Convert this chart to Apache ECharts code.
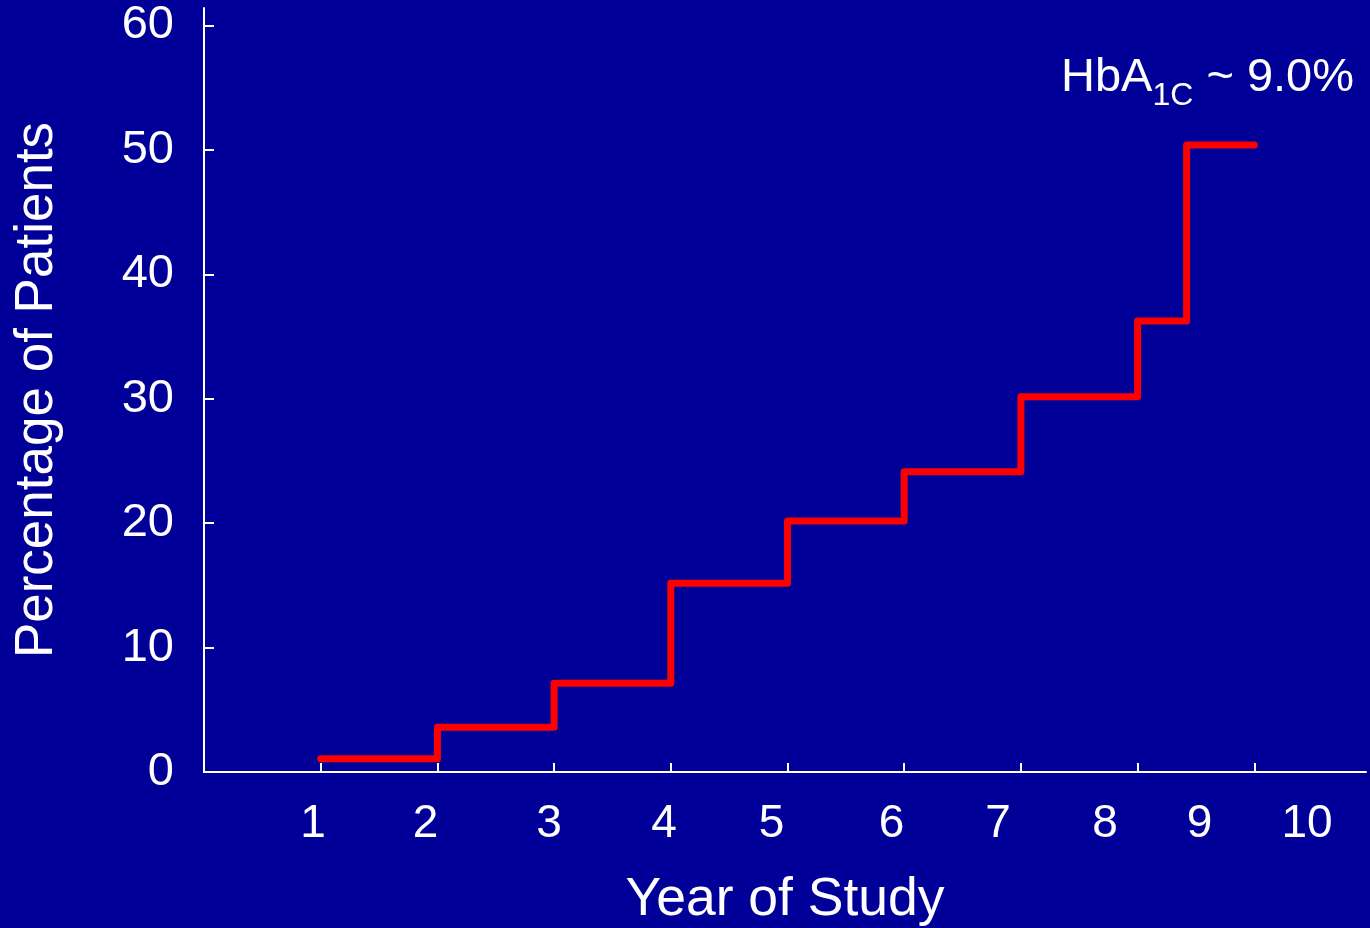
<!DOCTYPE html>
<html>
<head>
<meta charset="utf-8">
<script src="https://cdn.jsdelivr.net/npm/echarts@6/dist/echarts.min.js"></script>
<style>
html,body{margin:0;padding:0;background:#000099;}
#chart{width:1370px;height:928px;}
</style>
</head>
<body>
<div id="chart"></div>
<script>
// Step points: year at which each level starts, cumulative percentage
const years = [1, 2, 3, 4, 5, 6, 7, 8, 8.42, 9];
const percentages = [1.07, 3.59, 7.13, 15.17, 20.17, 24.13, 30.16, 36.25, 50.39, 50.39];
// X axis tick marks and label texts (labels sit at their own positions in the source)
const xTickValues = [1, 2, 3, 4, 5, 6, 7, 8, 9];
const xLabelTexts = ['1', '2', '3', '4', '5', '6', '7', '8', '9', '10'];
const xLabelPositions = [0.934, 1.898, 2.956, 3.942, 4.863, 5.891, 6.804, 7.721, 8.530, 9.452];
const yTickValues = [0, 10, 20, 30, 40, 50, 60];

const FONT = '"Liberation Sans", Arial, sans-serif';
const shadow = {textShadowColor: '#000', textShadowOffsetX: 2, textShadowOffsetY: 2, textShadowBlur: 0};

const chart = echarts.init(document.getElementById('chart'), null, {renderer: 'canvas'});
chart.setOption({
  backgroundColor: '#000099',
  animation: false,
  title: {
    text: '{a|HbA}{s|1C}{a| ~ 9.0%}',
    left: 1056,
    top: 40,
    textStyle: Object.assign({
      fontWeight: 'normal',
      fontFamily: FONT,
      color: '#fff',
      rich: {
        a: Object.assign({fontSize: 47, fontWeight: 'normal', lineHeight: 67, color: '#fff', fontFamily: FONT, verticalAlign: 'middle'}, shadow),
        s: Object.assign({fontSize: 32, fontWeight: 'normal', color: '#fff', fontFamily: FONT, verticalAlign: 'bottom'}, shadow)
      }
    }, shadow)
  },
  grid: {left: 204, right: 4, top: 8, bottom: 156, containLabel: false, outerBoundsMode: 'none'},
  xAxis: {
    type: 'value',
    min: 0,
    max: 9.957,
    name: 'Year of Study',
    nameLocation: 'middle',
    nameGap: 101,
    nameTextStyle: Object.assign({color: '#fff', fontSize: 53.5, fontFamily: FONT}, shadow),
    axisLine: {show: true, onZero: false, lineStyle: {color: '#fff', width: 2}},
    axisTick: {show: true, inside: true, length: 9, customValues: xTickValues, lineStyle: {color: '#fff', width: 2}},
    axisLabel: Object.assign({
      show: true,
      customValues: xLabelPositions,
      margin: 29,
      color: '#fff',
      fontSize: 46,
      fontFamily: FONT,
      formatter: function (v) {
        let best = 0, d = Infinity;
        xLabelPositions.forEach(function (p, i) { if (Math.abs(p - v) < d) { d = Math.abs(p - v); best = i; } });
        return xLabelTexts[best];
      }
    }, shadow),
    splitLine: {show: false}
  },
  yAxis: {
    type: 'value',
    min: 0,
    max: 61.4,
    name: 'Percentage of Patients',
    nameLocation: 'middle',
    nameGap: 140,
    nameTextStyle: Object.assign({color: '#fff', fontSize: 53, fontFamily: FONT}, shadow),
    axisLine: {show: true, lineStyle: {color: '#fff', width: 2}},
    axisTick: {show: true, inside: true, length: 10, customValues: yTickValues, lineStyle: {color: '#fff', width: 2}},
    axisLabel: Object.assign({
      show: true,
      customValues: yTickValues,
      margin: 30,
      color: '#fff',
      fontSize: 47,
      fontFamily: FONT
    }, shadow),
    splitLine: {show: false}
  },
  series: [{
    type: 'line',
    step: 'end',
    data: years.map(function (y, i) { return [y, percentages[i]]; }),
    showSymbol: false,
    symbol: 'none',
    lineStyle: {color: '#ff0000', width: 7, cap: 'round', join: 'round'}
  }]
});
</script>
</body>
</html>
